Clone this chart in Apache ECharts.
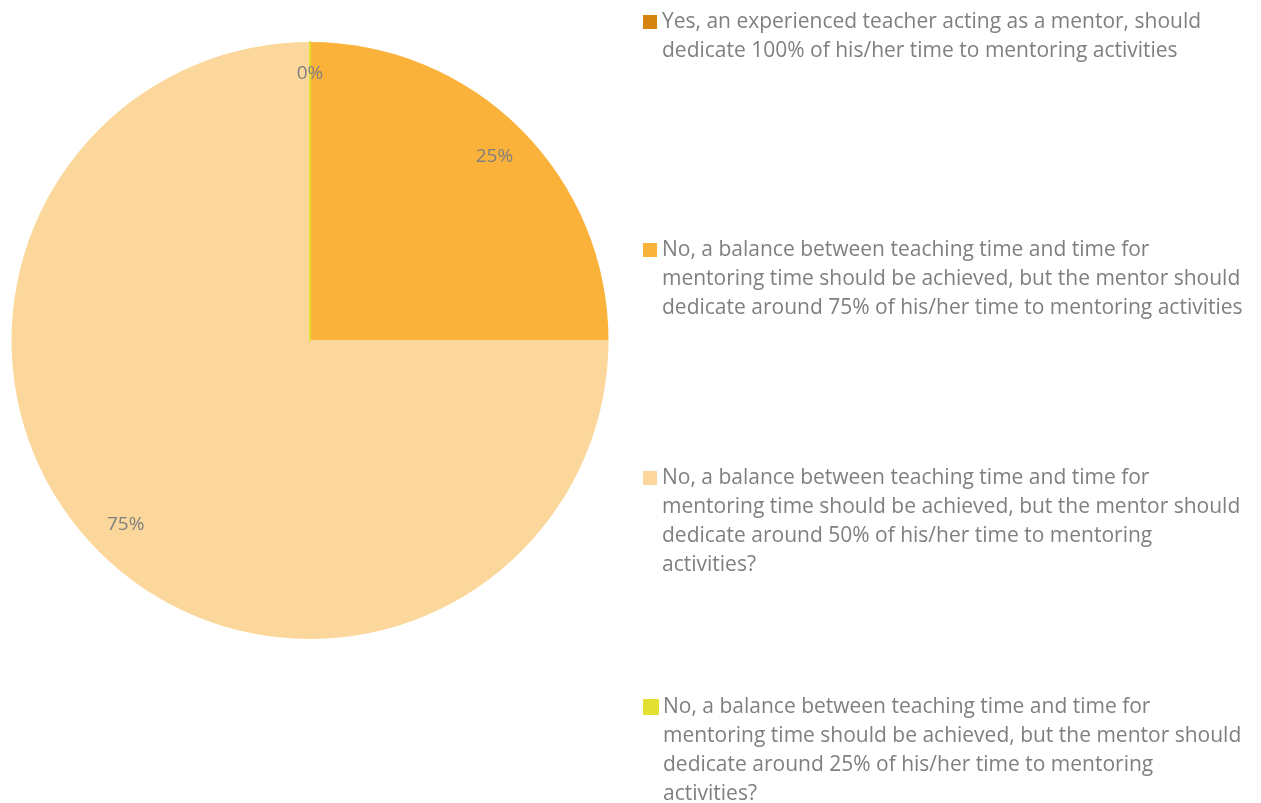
<!DOCTYPE html>
<html>
<head>
<meta charset="utf-8">
<script src="https://cdn.jsdelivr.net/npm/echarts@6/dist/echarts.min.js"></script>
<style>
  html, body { margin: 0; padding: 0; background: #ffffff; }
  #chart { width: 1261px; height: 803px; }
</style>
</head>
<body>
<div id="chart"></div>
<script>
// Answer options (legend text, with its line breaks)
const categories = [
  'Yes, an experienced teacher acting as a mentor, should\ndedicate 100% of his/her time to mentoring activities',
  'No, a balance between teaching time and time for\nmentoring time should be achieved, but the mentor should\ndedicate around 75% of his/her time to mentoring activities',
  'No, a balance between teaching time and time for\nmentoring time should be achieved, but the mentor should\ndedicate around 50% of his/her time to mentoring\nactivities?',
  'No, a balance between teaching time and time for\nmentoring time should be achieved, but the mentor should\ndedicate around 25% of his/her time to mentoring\nactivities?'
];
// Share of responses, in percent
const shares = [0, 25, 75, 0];
const colors = ['#d5840f', '#fbb23b', '#fbd79b', '#e2e132'];

const TEXT = '#7f7f7f';
const FONT = '"Open Sans", "Noto Sans", sans-serif';
const LINE_H = 29;
const CX = 310, CY = 340.5, R = 298.5;

// one legend block per answer; blank lines above the text put its first
// line level with the icon
const iconCenters = [22, 250, 478, 707];
const legends = categories.map((name, i) => {
  const n = name.split('\n').length;
  return {
    data: [name],
    orient: 'vertical',
    left: 643,
    top: iconCenters[i] - (2 * n - 1) * LINE_H / 2,
    padding: 0,
    itemWidth: 14,
    itemHeight: 14,
    itemGap: 5,
    icon: 'rect',
    selectedMode: false,
    formatter: t => ' \n'.repeat(n - 1) + t,
    textStyle: {
      color: TEXT,
      fontFamily: FONT,
      fontSize: 21,
      lineHeight: LINE_H
    }
  };
});

const chart = echarts.init(document.getElementById('chart'), null, { renderer: 'canvas' });
chart.setOption({
  animation: false,
  color: colors,
  legend: legends,
  series: [
    {
      name: 'slices',
      type: 'pie',
      center: [CX, CY],
      radius: [0, R],
      startAngle: 90,
      clockwise: true,
      silent: true,
      avoidLabelOverlap: false,
      label: { show: false },
      labelLine: { show: false },
      data: categories.map((name, i) => ({
        name,
        value: shares[i],
        itemStyle: i === categories.length - 1
          ? { color: colors[i], borderColor: colors[i], borderWidth: 2 }
          : { color: colors[i], borderWidth: 0 }
      }))
    },
    {
      // ring used only to place the percentage labels near the rim
      name: 'labels',
      type: 'pie',
      center: [CX, CY],
      radius: [217, R],
      startAngle: 90,
      clockwise: true,
      silent: true,
      avoidLabelOverlap: false,
      itemStyle: { color: 'rgba(0,0,0,0)', borderWidth: 0 },
      label: {
        show: true,
        position: 'inside',
        color: TEXT,
        fontFamily: FONT,
        fontSize: 19,
        formatter: p => Math.round(p.value) + '%'
      },
      labelLine: { show: false },
      data: categories.map((name, i) => ({
        name,
        value: shares[i],
        label: shares[i] === 0 ? { offset: [0, -6] } : undefined
      }))
    }
  ]
});
</script>
</body>
</html>
